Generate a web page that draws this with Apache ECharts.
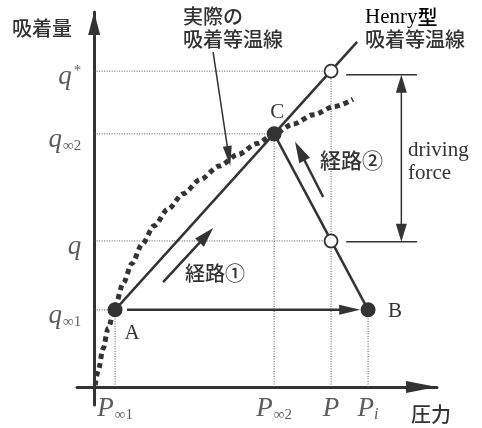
<!DOCTYPE html>
<html>
<head>
<meta charset="utf-8">
<script src="https://cdn.jsdelivr.net/npm/echarts@6/dist/echarts.min.js"></script>
<style>
html,body{margin:0;padding:0;background:#fff;}
#main{width:482px;height:428px;}
</style>
</head>
<body>
<div id="main"></div>
<script>
// ---- data (abstract units: pressure P on x, adsorbed amount q on y) ----
const pTickValues  = [6.1, 52.5, 69.1, 79.9];
const pTickSymbols = ['P', 'P', 'P', 'P'];
const pTickSubs    = ['∞1', '∞2', '', 'i'];

const qTickValues  = [87.6, 70.2, 40.5, 21.4];
const qTickSymbols = ['q', 'q', 'q', 'q'];
const qTickSups    = ['*', '', '', ''];
const qTickSubs    = ['', '∞2', '', '∞1'];

const henryLine = [[6.1, 21.4], [76.7, 95.7]];
const pathCB    = [[52.5, 70.2], [79.9, 21.4]];
const isoP = [0.3, 1.2, 2.6, 4.1, 6.1, 8.5, 11, 14, 17.5, 21.5, 26, 31, 36.5, 42, 47.5, 52.5, 58, 64, 70, 75.5];
const isoQ = [0.5, 4.6, 10.6, 16.3, 22.4, 28.8, 34.2, 39.6, 44.7, 49.3, 53.6, 57.6, 61.3, 64.5, 67.5, 70.2, 72.9, 75.5, 77.8, 79.8];
const solidPoints = [[6.1, 21.4], [52.5, 70.2], [79.9, 21.4]];
const solidNames  = ['A', 'C', 'B'];
const openPoints  = [[69.1, 87.6], [69.1, 40.5]];

// arrows: [fromP, fromQ, toP, toQ]
const arrowAB      = [9.6, 21.4, 77.6, 21.4];
const arrowPath1   = [20.1, 29.1, 34.7, 44.1];
const arrowPath2   = [66.8, 52.7, 58.6, 68.0];
const arrowActual  = [34.7, 92.9, 39.7, 61.3];
const drivingForce = [89.6, 40.3, 89.6, 86.6];
const forceTicks   = [[[73.5, 86.6], [94.2, 86.6]], [[73.5, 40.3], [94.2, 40.3]]];

const labelTexts = {
  yName: '吸着量', xName: '圧力',
  henry1: 'Henry', henry2: '型', henry3: '吸着等温線',
  actual1: '実際の', actual2: '吸着等温線',
  path1: '経路①', path2: '経路②',
  df1: 'driving', df2: 'force'
};

// ---- styles ----
const INK = '#333';
const CJK = '"Noto Sans CJK JP", "Noto Sans CJK SC", sans-serif';
const SERIF = '"Liberation Serif", "DejaVu Serif", serif';

const rich = {
  v:  {fontFamily: SERIF, fontStyle: 'italic', fontSize: 27, color: INK, lineHeight: 28},
  s:  {fontFamily: SERIF, fontSize: 15, color: INK, verticalAlign: 'bottom', lineHeight: 14, padding: [0, 0, 0, 1]},
  si: {fontFamily: SERIF, fontStyle: 'italic', fontSize: 16, color: INK, verticalAlign: 'bottom', lineHeight: 14},
  sup:{fontFamily: SERIF, fontSize: 15, color: INK, verticalAlign: 'top', lineHeight: 14, padding: [0, 0, 0, 2]}
};
function tickText(sym, sub, sup) {
  let t = '{v|' + sym + '}';
  if (sup) t += '{sup|' + sup + '}';
  if (sub) t += (sub === 'i' ? '{si|' : '{s|') + sub + '}';
  return t;
}

function plainLine(data, style, z) {
  return {type: 'line', data: data, symbol: 'none', silent: true, animation: false,
          z: z || 2, lineStyle: style};
}
// arrow drawn with custom series; endpoints go through the axes via api.coord
function arrowSeries(seg, width, headW, headL, both) {
  return {
    type: 'custom', silent: true, animation: false, z: 5, clip: false,
    data: [seg],
    renderItem: function (params, api) {
      const a = api.coord([api.value(0), api.value(1)]);
      const b = api.coord([api.value(2), api.value(3)]);
      const dx = b[0] - a[0], dy = b[1] - a[1];
      const len = Math.sqrt(dx * dx + dy * dy);
      const ux = dx / len, uy = dy / len, nx = -uy, ny = ux;
      function head(tip, sx, sy) {
        const bx = tip[0] - sx * headL, by = tip[1] - sy * headL;
        return {type: 'polygon', shape: {points: [
          tip, [bx + nx * headW / 2, by + ny * headW / 2], [bx - nx * headW / 2, by - ny * headW / 2]]},
          style: {fill: INK}};
      }
      const s = both ? [a[0] + ux * headL * 0.6, a[1] + uy * headL * 0.6] : a;
      const e = [b[0] - ux * headL * 0.6, b[1] - uy * headL * 0.6];
      const children = [{type: 'line', shape: {x1: s[0], y1: s[1], x2: e[0], y2: e[1]},
        style: {stroke: INK, lineWidth: width}}, head(b, ux, uy)];
      if (both) children.push(head(a, -ux, -uy));
      return {type: 'group', children: children};
    }
  };
}

const series = [];
// thin dotted guide lines
const guideStyle = {color: '#555', width: 1, type: [1, 1.5]};
series.push(plainLine([[0, qTickValues[0]], [pTickValues[2], qTickValues[0]]], guideStyle));
series.push(plainLine([[0, qTickValues[1]], [pTickValues[1], qTickValues[1]]], guideStyle));
series.push(plainLine([[0, qTickValues[2]], [pTickValues[2], qTickValues[2]]], guideStyle));
series.push(plainLine([[0, qTickValues[3]], [pTickValues[0], qTickValues[3]]], guideStyle));
series.push(plainLine([[pTickValues[0], 0], [pTickValues[0], qTickValues[3]]], guideStyle));
series.push(plainLine([[pTickValues[1], 0], [pTickValues[1], qTickValues[1]]], guideStyle));
series.push(plainLine([[pTickValues[2], 0], [pTickValues[2], qTickValues[0]]], guideStyle));
series.push(plainLine([[pTickValues[3], 0], [pTickValues[3], qTickValues[3]]], guideStyle));

// actual isotherm (thick dotted)
series.push({type: 'line', data: isoP.map((p, i) => [p, isoQ[i]]), symbol: 'none', smooth: 0.3, smoothMonotone: 'x',
  silent: true, animation: false, z: 3,
  lineStyle: {color: INK, width: 5, type: [5, 4], cap: 'butt'}});
// Henry line and path C-B
series.push(plainLine(henryLine, {color: INK, width: 2.5}, 4));
series.push(plainLine(pathCB, {color: INK, width: 2.5}, 4));
// driving force ticks
forceTicks.forEach(t => series.push(plainLine(t, {color: INK, width: 1.5}, 4)));

// arrows
series.push(arrowSeries(arrowAB, 2.5, 10, 21, false));
series.push(arrowSeries(arrowPath1, 2.5, 12, 20, false));
series.push(arrowSeries(arrowPath2, 2.5, 12, 21, false));
series.push(arrowSeries(arrowActual, 1.5, 9, 20, false));
series.push(arrowSeries(drivingForce, 1.5, 11, 18, true));

// points
series.push({type: 'scatter', data: solidPoints.map((p, i) => ({
    value: p,
    label: {show: true, formatter: solidNames[i], position: 'inside',
      offset: [[17, 24], [3, -21], [27, 2]][i],
      fontFamily: SERIF, fontSize: 21, color: INK}
  })),
  symbol: 'circle', symbolSize: 15, itemStyle: {color: INK, opacity: 1}, silent: true, animation: false, z: 8});
series.push({type: 'scatter', data: openPoints, symbol: 'circle', symbolSize: 13,
  itemStyle: {color: '#fff', borderColor: INK, borderWidth: 1.8, opacity: 1}, silent: true, animation: false, z: 8});

// tick labels
series.push({type: 'scatter', symbolSize: 0, clip: false, silent: true, animation: false, z: 9,
  data: qTickValues.map((q, i) => ({value: [0, q],
    label: {show: true, position: 'left', distance: 13, offset: [0, 6],
      formatter: tickText(qTickSymbols[i], qTickSubs[i], qTickSups[i]), rich: rich}}))});
series.push({type: 'scatter', symbolSize: 0, clip: false, silent: true, animation: false, z: 9,
  data: pTickValues.map((p, i) => ({value: [p, 0],
    label: {show: true, position: 'bottom', distance: 8,
      formatter: tickText(pTickSymbols[i], pTickSubs[i], ''), rich: rich}}))});

function txt(x, y, text, font, size) {
  return {type: 'text', x: x, y: y, silent: true, z: 20,
    style: {text: text, fontFamily: font, fontSize: size, fontWeight: font === CJK ? 500 : 'normal',
      fill: INK, align: 'left', verticalAlign: 'middle'}};
}

const option = {
  animation: false,
  grid: {left: 77, top: 12, width: 360, height: 393, containLabel: false},
  xAxis: {type: 'value', min: -5, max: 100,
    axisLine: {onZero: true, symbol: ['none', 'triangle'], symbolSize: [12, 31], symbolOffset: [0, -15.5],
      lineStyle: {color: INK, width: 3}},
    axisTick: {show: false}, axisLabel: {show: false}, splitLine: {show: false}},
  yAxis: {type: 'value', min: -5, max: 104,
    axisLine: {onZero: true, symbol: ['none', 'triangle'], symbolSize: [12, 23], symbolOffset: [0, -11.5],
      lineStyle: {color: INK, width: 3}},
    axisTick: {show: false}, axisLabel: {show: false}, splitLine: {show: false}},
  series: series,
  graphic: [
    txt(12, 28, labelTexts.yName, CJK, 20),
    txt(411, 414, labelTexts.xName, CJK, 20),
    {type: 'text', x: 365, y: 17, silent: true, z: 20,
      style: {text: '{e|' + labelTexts.henry1 + '}{j|' + labelTexts.henry2 + '}', verticalAlign: 'middle',
        rich: {e: {fontFamily: SERIF, fontSize: 21, color: INK},
               j: {fontFamily: CJK, fontSize: 20, fontWeight: 500, color: INK}}}},
    txt(365, 39, labelTexts.henry3, CJK, 20),
    txt(183, 16, labelTexts.actual1, CJK, 20),
    txt(183, 39, labelTexts.actual2, CJK, 20),
    txt(185, 273, labelTexts.path1, CJK, 20),
    txt(320, 160, labelTexts.path2, CJK, 21),
    txt(408, 150, labelTexts.df1, SERIF, 21),
    txt(408, 173, labelTexts.df2, SERIF, 21)
  ]
};

const chart = echarts.init(document.getElementById('main'), null, {renderer: 'canvas'});
chart.setOption(option);
</script>
</body>
</html>
